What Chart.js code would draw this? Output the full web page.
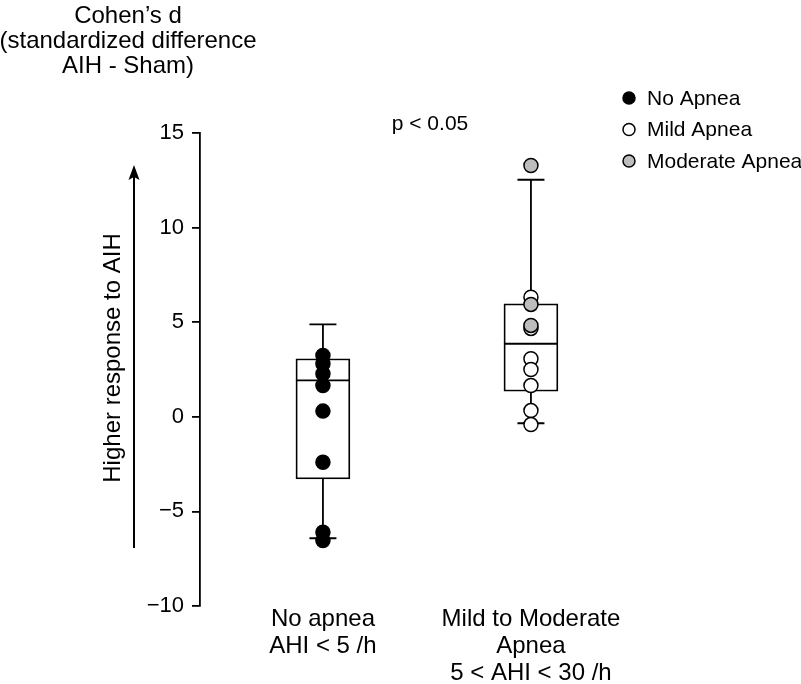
<!DOCTYPE html>
<html>
<head>
<meta charset="utf-8">
<script src="https://cdn.jsdelivr.net/npm/chart.js@4.4.1/dist/chart.umd.min.js"></script>
<style>
    html, body { margin: 0; padding: 0; background: #fff; }
    #wrap { width: 801px; height: 684px; position: relative; }
</style>
</head>
<body>
<div id="wrap"><canvas id="chart" width="801" height="684"></canvas></div>
<script>
/* ----------------------------------------------------------
   DATA
---------------------------------------------------------- */
const groupLabels = [
    ['No apnea', 'AHI < 5 /h'],
    ['Mild to Moderate', 'Apnea', '5 < AHI < 30 /h']
];
const yTicks = [-10, -5, 0, 5, 10, 15];

// box summaries, one entry per group
const whiskerLow  = [-6.42, -0.34];
const boxQ1       = [-3.28, 1.35];
const boxMedian   = [1.92, 3.86];
const boxQ3       = [3.07, 5.97];
const whiskerHigh = [4.88, 12.53];

// individual subjects (group index, value)
const noApneaGroup = [0, 0, 0, 0, 0, 0, 0, 0];
const noApnea      = [3.24, 2.80, 2.27, 1.65, 0.30, -2.40, -6.10, -6.54];
const mildGroup    = [1, 1, 1, 1, 1, 1, 1];
const mildApnea    = [6.32, 4.67, 3.07, 2.50, 1.65, 0.33, -0.41];
const modGroup     = [1, 1, 1];
const moderateApnea = [13.28, 5.94, 4.83];

const legendNames = ['No Apnea', 'Mild Apnea', 'Moderate Apnea'];
const yTitle = 'Higher response to AIH';
const topTitle = ['Cohen\u2019s d', '(standardized difference', 'AIH - Sham)'];
const pText = 'p < 0.05';

/* ----------------------------------------------------------
   STYLE
---------------------------------------------------------- */
const FONT = '"Liberation Sans", Arial, Helvetica, sans-serif';
const GRAY = '#bdbdbd';
const LINE_W = 1.8;

function pts(groups, values) {
    return values.map((v, i) => ({ x: groups[i], y: v }));
}

// whiskers + median, drawn right after the boxes (under the dots)
const boxExtras = {
    id: 'boxExtras',
    afterDatasetDraw(chart, args) {
        if (args.index !== 0) return;
        const { ctx, scales: { x, y } } = chart;
        ctx.save();
        ctx.strokeStyle = '#000';
        ctx.lineWidth = LINE_W;
        boxQ1.forEach((q1, i) => {
            const cx = x.getPixelForValue(i);
            const half = 27;
            const capHalf = 13.5;
            ctx.beginPath();
            // median
            ctx.moveTo(cx - half, y.getPixelForValue(boxMedian[i]));
            ctx.lineTo(cx + half, y.getPixelForValue(boxMedian[i]));
            // upper whisker
            ctx.moveTo(cx, y.getPixelForValue(boxQ3[i]));
            ctx.lineTo(cx, y.getPixelForValue(whiskerHigh[i]));
            ctx.moveTo(cx - capHalf, y.getPixelForValue(whiskerHigh[i]));
            ctx.lineTo(cx + capHalf, y.getPixelForValue(whiskerHigh[i]));
            // lower whisker
            ctx.moveTo(cx, y.getPixelForValue(q1));
            ctx.lineTo(cx, y.getPixelForValue(whiskerLow[i]));
            ctx.moveTo(cx - capHalf, y.getPixelForValue(whiskerLow[i]));
            ctx.lineTo(cx + capHalf, y.getPixelForValue(whiskerLow[i]));
            ctx.stroke();
        });
        ctx.restore();
    }
};

// titles, arrow, p-value and legend
const annotations = {
    id: 'annotations',
    afterDraw(chart) {
        const { ctx } = chart;
        ctx.save();
        ctx.fillStyle = '#000';
        ctx.strokeStyle = '#000';

        // top title
        ctx.font = '24px ' + FONT;
        ctx.textAlign = 'center';
        ctx.textBaseline = 'middle';
        topTitle.forEach((t, i) => ctx.fillText(t, 128, 16 + i * 25));

        // p value
        ctx.font = '21px ' + FONT;
        ctx.fillText(pText, 430, 124);

        // rotated y title
        ctx.save();
        ctx.translate(120, 358);
        ctx.rotate(-Math.PI / 2);
        ctx.font = '24px ' + FONT;
        ctx.textBaseline = 'alphabetic';
        ctx.fillText(yTitle, 0, 0);
        ctx.restore();

        // arrow
        ctx.lineWidth = 2;
        ctx.beginPath();
        ctx.moveTo(134, 548);
        ctx.lineTo(134, 176);
        ctx.stroke();
        ctx.beginPath();
        ctx.moveTo(134, 165);
        ctx.lineTo(139.5, 180);
        ctx.lineTo(134, 177);
        ctx.lineTo(128.5, 180);
        ctx.closePath();
        ctx.fill();

        // legend
        const fills = ['#000', '#fff', GRAY];
        ctx.font = '21px ' + FONT;
        ctx.textAlign = 'left';
        legendNames.forEach((name, i) => {
            const yy = 98 + i * 31.5;
            ctx.beginPath();
            ctx.arc(629, yy, 6, 0, Math.PI * 2);
            ctx.fillStyle = fills[i];
            ctx.fill();
            ctx.lineWidth = 1.5;
            ctx.strokeStyle = '#000';
            ctx.stroke();
            ctx.fillStyle = '#000';
            ctx.fillText(name, 647, yy + 1);
        });
        ctx.restore();
    }
};

const dotStyle = (fill) => ({
    type: 'scatter',
    showLine: false,
    pointRadius: 7,
    pointHoverRadius: 7,
    pointBackgroundColor: fill,
    pointBorderColor: '#000',
    pointBorderWidth: 1.5
});

new Chart(document.getElementById('chart'), {
    type: 'bar',
    data: {
        datasets: [
            {
                label: 'box',
                data: boxQ1.map((q1, i) => ({ x: i, y: [q1, boxQ3[i]] })),
                backgroundColor: '#fff',
                borderColor: '#000',
                borderWidth: LINE_W,
                borderSkipped: false,
                barThickness: 54,
                order: 10
            },
            Object.assign(dotStyle('#000'), { label: legendNames[0], data: pts(noApneaGroup, noApnea), order: 3 }),
            Object.assign(dotStyle('#fff'), { label: legendNames[1], data: pts(mildGroup, mildApnea), order: 2 }),
            Object.assign(dotStyle(GRAY), { label: legendNames[2], data: pts(modGroup, moderateApnea), order: 1 })
        ]
    },
    options: {
        responsive: false,
        animation: false,
        layout: { padding: { top: 133, right: 201, left: 0, bottom: 0 } },
        plugins: {
            legend: { display: false },
            tooltip: { enabled: false },
            title: { display: false }
        },
        scales: {
            x: {
                type: 'linear',
                offset: false,
                min: -0.591,
                max: 1.332,
                afterBuildTicks: (s) => { s.ticks = groupLabels.map((_, i) => ({ value: i })); },
                afterFit: (s) => {
                    s.height = 78;
                    s.paddingLeft = 0;
                    s.paddingRight = 0;
                },
                ticks: {
                    color: '#000',
                    font: { family: FONT, size: 24, lineHeight: 1.125 },
                    padding: 0,
                    maxRotation: 0,
                    autoSkip: false,
                    callback: (v) => groupLabels[v]
                },
                grid: { display: false, drawTicks: false, offset: false },
                border: { display: false }
            },
            y: {
                min: -10,
                max: 15,
                afterBuildTicks: (s) => { s.ticks = yTicks.map((v) => ({ value: v })); },
                afterFit: (s) => {
                    s.width = 200;
                    s.paddingTop = 0;
                    s.paddingBottom = 0;
                },
                ticks: {
                    color: '#000',
                    font: { family: FONT, size: 22 },
                    padding: 8,
                    callback: (v) => String(v).replace('-', '\u2212')
                },
                grid: { drawOnChartArea: false, tickLength: 8, color: '#000', lineWidth: LINE_W },
                border: { color: '#000', width: LINE_W }
            }
        }
    },
    plugins: [boxExtras, annotations]
});
</script>
</body>
</html>
